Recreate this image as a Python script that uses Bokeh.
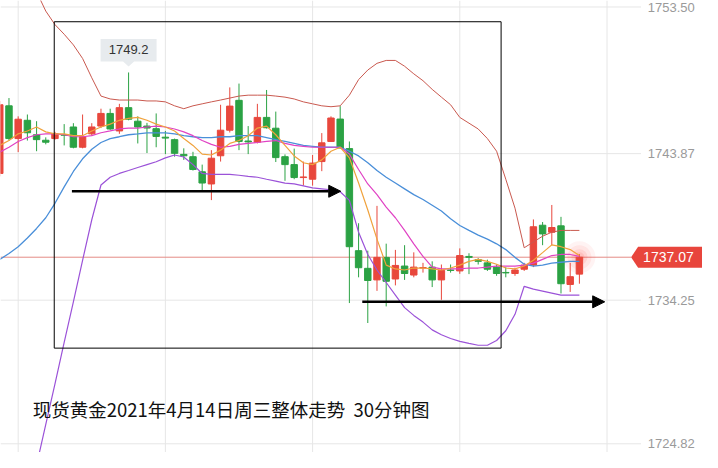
import numpy as np
from bokeh.plotting import figure
from bokeh.models import Range1d, Arrow, NormalHead, Label
from bokeh.embed import file_html
from bokeh.resources import INLINE

# ---------------- data (30-minute bars, XAU spot) ----------------
opens = [1742.57, 1747.01, 1744.86, 1746.06, 1745.11, 1744.75, 1744.86, 1745.11, 1745.62, 1744.29,
         1745.17, 1745.68, 1746.51, 1745.36, 1746.89, 1746.00, 1745.68, 1745.51, 1744.95, 1744.79,
         1743.82, 1743.67, 1742.68, 1741.88, 1743.73, 1745.41, 1747.37, 1744.70, 1744.62, 1746.25,
         1745.54, 1743.67, 1743.15, 1742.30, 1742.19, 1743.35, 1744.67, 1746.14, 1744.20, 1737.50,
         1736.34, 1735.58, 1737.06, 1735.64, 1736.49, 1735.90, 1736.36, 1736.42, 1735.58, 1736.23,
         1736.17, 1737.12, 1736.91, 1736.70, 1736.42, 1736.07, 1736.00, 1736.28, 1736.55, 1739.17,
         1738.71, 1739.13, 1735.28, 1735.96]
highs = [1747.33, 1747.52, 1746.32, 1746.44, 1746.00, 1744.94, 1745.30, 1745.81, 1745.87, 1746.44,
         1745.87, 1746.82, 1746.82, 1747.14, 1749.20, 1746.32, 1745.89, 1746.51, 1745.36, 1744.86,
         1744.22, 1743.99, 1743.15, 1744.10, 1747.08, 1748.22, 1748.47, 1745.68, 1747.14, 1748.05,
         1746.63, 1743.82, 1744.20, 1743.35, 1743.78, 1745.22, 1746.32, 1746.99, 1744.67, 1739.30,
         1737.50, 1740.44, 1737.96, 1737.55, 1737.86, 1737.39, 1736.70, 1736.80, 1736.59, 1736.59,
         1737.65, 1737.33, 1737.01, 1736.91, 1736.59, 1736.42, 1736.38, 1736.70, 1739.55, 1739.38,
         1740.50, 1739.72, 1736.70, 1737.27]
lows = [1742.38, 1744.73, 1743.97, 1744.73, 1744.03, 1744.48, 1744.79, 1744.41, 1744.22, 1744.22,
        1745.05, 1745.55, 1745.43, 1745.17, 1746.06, 1744.54, 1743.91, 1744.29, 1743.84, 1743.67,
        1743.46, 1742.76, 1741.45, 1740.82, 1743.35, 1745.26, 1744.10, 1743.84, 1744.54, 1745.52,
        1743.32, 1742.09, 1742.19, 1741.77, 1741.77, 1742.72, 1744.64, 1744.22, 1734.06, 1735.75,
        1732.75, 1734.86, 1733.84, 1735.22, 1735.58, 1735.75, 1736.06, 1735.11, 1734.27, 1736.06,
        1735.98, 1735.96, 1736.59, 1736.17, 1735.85, 1735.75, 1735.85, 1736.17, 1736.42, 1737.86,
        1737.86, 1734.69, 1734.79, 1735.33]
closes = [1747.08, 1744.86, 1746.13, 1745.24, 1744.79, 1744.62, 1745.17, 1745.08, 1744.29, 1744.98,
          1745.62, 1746.51, 1745.49, 1746.89, 1746.13, 1745.62, 1745.55, 1745.00, 1744.89, 1743.89,
          1743.73, 1742.83, 1741.94, 1743.57, 1745.41, 1746.99, 1744.67, 1744.64, 1746.25, 1745.57,
          1743.61, 1743.15, 1742.30, 1742.34, 1743.25, 1744.58, 1746.21, 1744.24, 1737.76, 1736.38,
          1735.54, 1737.06, 1735.49, 1736.53, 1736.00, 1736.42, 1736.39, 1735.58, 1736.21, 1736.20,
          1737.18, 1737.06, 1736.80, 1736.28, 1736.00, 1736.04, 1736.23, 1736.55, 1739.07, 1738.60,
          1739.02, 1735.33, 1735.79, 1737.07]

ma5 = [1744.41, 1744.73, 1745.17, 1745.36, 1745.62, 1745.30, 1745.17, 1745.17, 1745.05, 1745.05,
       1745.36, 1745.62, 1745.81, 1746.06, 1746.19, 1746.25, 1746.06, 1745.81, 1745.62, 1745.36,
       1744.86, 1744.41, 1743.84, 1743.78, 1744.10, 1744.54, 1744.73, 1745.05, 1745.55, 1745.68,
       1745.11, 1744.41, 1743.72, 1743.27, 1743.15, 1743.46, 1744.03, 1744.29, 1743.59, 1741.94,
       1740.17, 1738.26, 1736.55, 1736.30, 1736.23, 1736.36, 1736.36, 1736.30, 1736.23, 1736.36,
       1736.55, 1736.80, 1736.93, 1736.80, 1736.61, 1736.36, 1736.30, 1736.49, 1736.87, 1737.37,
       1737.88, 1737.76, 1737.57, 1737.18]
ma10 = [1743.97, 1744.29, 1744.67, 1744.92, 1745.11, 1745.17, 1745.17, 1745.11, 1744.98, 1744.98,
        1745.05, 1745.24, 1745.36, 1745.49, 1745.55, 1745.55, 1745.62, 1745.68, 1745.62, 1745.49,
        1745.30, 1745.05, 1744.73, 1744.48, 1744.29, 1744.35, 1744.48, 1744.54, 1744.60, 1744.67,
        1744.73, 1744.54, 1744.41, 1744.35, 1744.29, 1744.29, 1744.29, 1744.29, 1743.84, 1742.83,
        1741.88, 1741.18, 1740.36, 1739.66, 1738.83, 1737.95, 1737.12, 1736.42, 1736.30, 1736.30,
        1736.30, 1736.36, 1736.36, 1736.42, 1736.49, 1736.49, 1736.49, 1736.55, 1736.68, 1736.93,
        1737.18, 1737.25, 1737.25, 1737.12]
boll_mid = [1736.93, 1737.31, 1737.76, 1738.33, 1738.96, 1739.66, 1740.61, 1741.69, 1742.70, 1743.53,
            1744.16, 1744.60, 1744.86, 1744.98, 1745.11, 1745.17, 1745.24, 1745.24, 1745.24, 1745.17,
            1745.05, 1744.98, 1744.92, 1744.92, 1744.98, 1744.98, 1745.05, 1745.05, 1745.05, 1744.92,
            1744.79, 1744.67, 1744.54, 1744.41, 1744.35, 1744.29, 1744.29, 1744.29, 1744.03, 1743.72,
            1743.27, 1742.76, 1742.32, 1741.94, 1741.56, 1741.18, 1740.86, 1740.48, 1740.10, 1739.59,
            1739.15, 1738.83, 1738.52, 1738.26, 1737.95, 1737.57, 1737.06, 1736.61, 1736.49, 1736.55,
            1736.68, 1736.74, 1736.80, 1736.80]
# bands start at bar 4 (earlier values lie outside the view)
band_start = 4
boll_up = [1754.50, 1753.23, 1752.34, 1751.71, 1751.01, 1750.12, 1748.85, 1747.65, 1747.46, 1747.39,
           1747.39, 1747.39, 1747.33, 1747.33, 1747.27, 1747.01, 1746.82, 1747.01, 1747.14, 1747.27,
           1747.39, 1747.52, 1747.65, 1747.71, 1747.71, 1747.71, 1747.65, 1747.58, 1747.46, 1747.27,
           1747.14, 1747.01, 1746.95, 1747.01, 1747.71, 1748.73, 1749.36, 1749.80, 1749.99, 1749.99,
           1749.61, 1749.11, 1748.66, 1748.09, 1747.58, 1747.08, 1746.25, 1745.87, 1745.49, 1744.86,
           1744.03, 1742.19, 1740.29, 1737.69, 1738.07, 1738.45, 1738.71, 1738.83, 1738.83, 1738.83]
boll_dn = [1723.42, 1726.09, 1728.75, 1731.48, 1734.14, 1736.87, 1739.53, 1741.81, 1742.32, 1742.57,
           1742.76, 1742.96, 1743.15, 1743.34, 1743.59, 1743.78, 1743.65, 1743.15, 1742.57, 1742.51,
           1742.51, 1742.51, 1742.45, 1742.38, 1742.32, 1742.19, 1742.07, 1741.94, 1741.88, 1741.75,
           1741.62, 1741.56, 1741.50, 1741.37, 1740.80, 1738.71, 1737.25, 1736.23, 1735.41, 1734.58,
           1733.76, 1733.25, 1732.81, 1732.30, 1731.98, 1731.73, 1731.54, 1731.41, 1731.29, 1731.29,
           1731.60, 1732.24, 1733.32, 1735.16, 1734.97, 1734.84, 1734.71, 1734.58, 1734.58, 1734.58]

tick_values = [1753.50, 1743.87, 1734.25, 1724.82]
tick_labels = ["1753.50", "1743.87", "1734.25", "1724.82"]
last_price = 1737.07
last_label = "1737.07"
peak_bar = 14
peak_label = "1749.2"
title_text = "现货黄金2021年4月14日周三整体走势 \u00a030分钟图"
vgrid_bars = [2, 18, 34, 50, 66]
# hand-drawn annotations: box [left bar, right bar, low, high]; arrows [x0, x1, level]
trend_box = [5.92, 54.49, 1731.10, 1752.53]
arrow_1 = [7.84, 37.06, 1741.40]
arrow_2 = [39.40, 65.75, 1734.14]

# ---------------- figure ----------------
W, H = 702, 452
x0, x1 = 0.0786, 76.38
y0, y1 = 1724.248, 1753.925
PXX = W / (x1 - x0)   # px per bar
PXY = H / (y1 - y0)   # px per price unit

p = figure(width=W, height=H, output_backend="svg", toolbar_location=None,
           x_range=Range1d(x0, x1), y_range=Range1d(y0, y1), min_border=0,
           x_axis_location=None, y_axis_location=None)
p.grid.visible = False
p.outline_line_color = None
p.background_fill_color = "white"

grid_c = "#e6e6e6"
for gx in vgrid_bars:
    p.segment(x0=[gx], y0=[y0], x1=[gx], y1=[y1], line_color=grid_c, line_width=1)
h_end = 69.7
p.segment(x0=[x0] * len(tick_values), y0=tick_values, x1=[h_end] * len(tick_values), y1=tick_values,
          line_color=grid_c, line_width=1)

# current price line
tag_tip = 68.62
p.segment(x0=[x0], y0=[last_price], x1=[tag_tip], y1=[last_price], line_color="#e58b85", line_width=1)

# glow on the last bar
n = len(closes)
idx = np.arange(n)
for r, a in [(16, 0.06), (12, 0.08), (8, 0.10), (5, 0.12)]:
    p.circle(x=[n - 1], y=[last_price], radius=r, radius_units="screen",
             fill_color="#ff3b30", fill_alpha=a, line_color=None)

# candles
o = np.array(opens); c = np.array(closes); h = np.array(highs); l = np.array(lows)
up = c >= o
red, green = "#e8473c", "#2ba244"
cols = np.where(up, red, green)
p.segment(x0=idx, y0=l, x1=idx, y1=h, line_color=cols, line_width=1)
p.vbar(x=idx, width=0.7, top=np.maximum(o, c), bottom=np.minimum(o, c),
       fill_color=cols, line_color=cols, line_width=1)

# indicator lines
bidx = np.arange(band_start, band_start + len(boll_up))
p.line(bidx, boll_up, line_color="#c9594f", line_width=1)
p.line(bidx, boll_dn, line_color="#9b52d8", line_width=1.2)
p.line(idx, boll_mid, line_color="#4a8fd9", line_width=1.3)
p.line(idx, ma10, line_color="#e042c4", line_width=1.2)
p.line(idx, ma5, line_color="#f0a23c", line_width=1.2)

# hand-drawn box and arrows
p.quad(left=[trend_box[0]], right=[trend_box[1]], bottom=[trend_box[2]], top=[trend_box[3]],
       fill_color=None, line_color="black", line_width=1)
for a0, a1, lev in [arrow_1, arrow_2]:
    p.add_layout(Arrow(end=NormalHead(size=12, fill_color="black", line_color="black", line_width=1),
                       x_start=a0, y_start=lev, x_end=a1, y_end=lev,
                       line_color="black", line_width=2.5))

# peak callout
hp = highs[peak_bar]
hw = 28 / PXX
bb = hp + 11 / PXY
bt = hp + 33.5 / PXY
p.patch([peak_bar - hw, peak_bar + hw, peak_bar + hw, peak_bar + 0.6, peak_bar, peak_bar - 0.6, peak_bar - hw],
        [bt, bt, bb, bb, hp + 6 / PXY, bb, bb],
        fill_color="#e7ebee", line_color=None)
p.add_layout(Label(x=peak_bar, y=hp + 22.5 / PXY, text=peak_label, text_align="center",
                   text_baseline="middle", text_font="Liberation Sans", text_font_size="13px",
                   text_color="#333333"))

# price tag
th = 10.5 / PXY
body_l = tag_tip + 7 / PXX
p.patch([tag_tip, body_l, x1 + 1, x1 + 1, body_l],
        [last_price, last_price + th, last_price + th, last_price - th, last_price - th],
        fill_color="#e8453c", line_color=None)
p.add_layout(Label(x=tag_tip + 12 / PXX, y=last_price, text=last_label, text_align="left",
                   text_baseline="middle", text_font="Liberation Sans", text_font_size="14px",
                   text_color="white"))

# right-side price labels
lab_x = 70.43
for v, t in zip(tick_values, tick_labels):
    yy = min(max(v, y0 + 7 / PXY), y1 - 7 / PXY)
    p.add_layout(Label(x=lab_x, y=yy, text=t, text_align="left", text_baseline="middle",
                       text_font="Liberation Sans", text_font_size="13px", text_color="#9a9a9a"))

# title
p.add_layout(Label(x=(33 + 0.74) / 9.41, y=1727.10, text=title_text, text_align="left",
                   text_baseline="middle", text_font="Noto Sans CJK SC", text_font_size="18.5px",
                   text_color="#111111"))

open("out.html", "w").write(file_html(p, INLINE))
